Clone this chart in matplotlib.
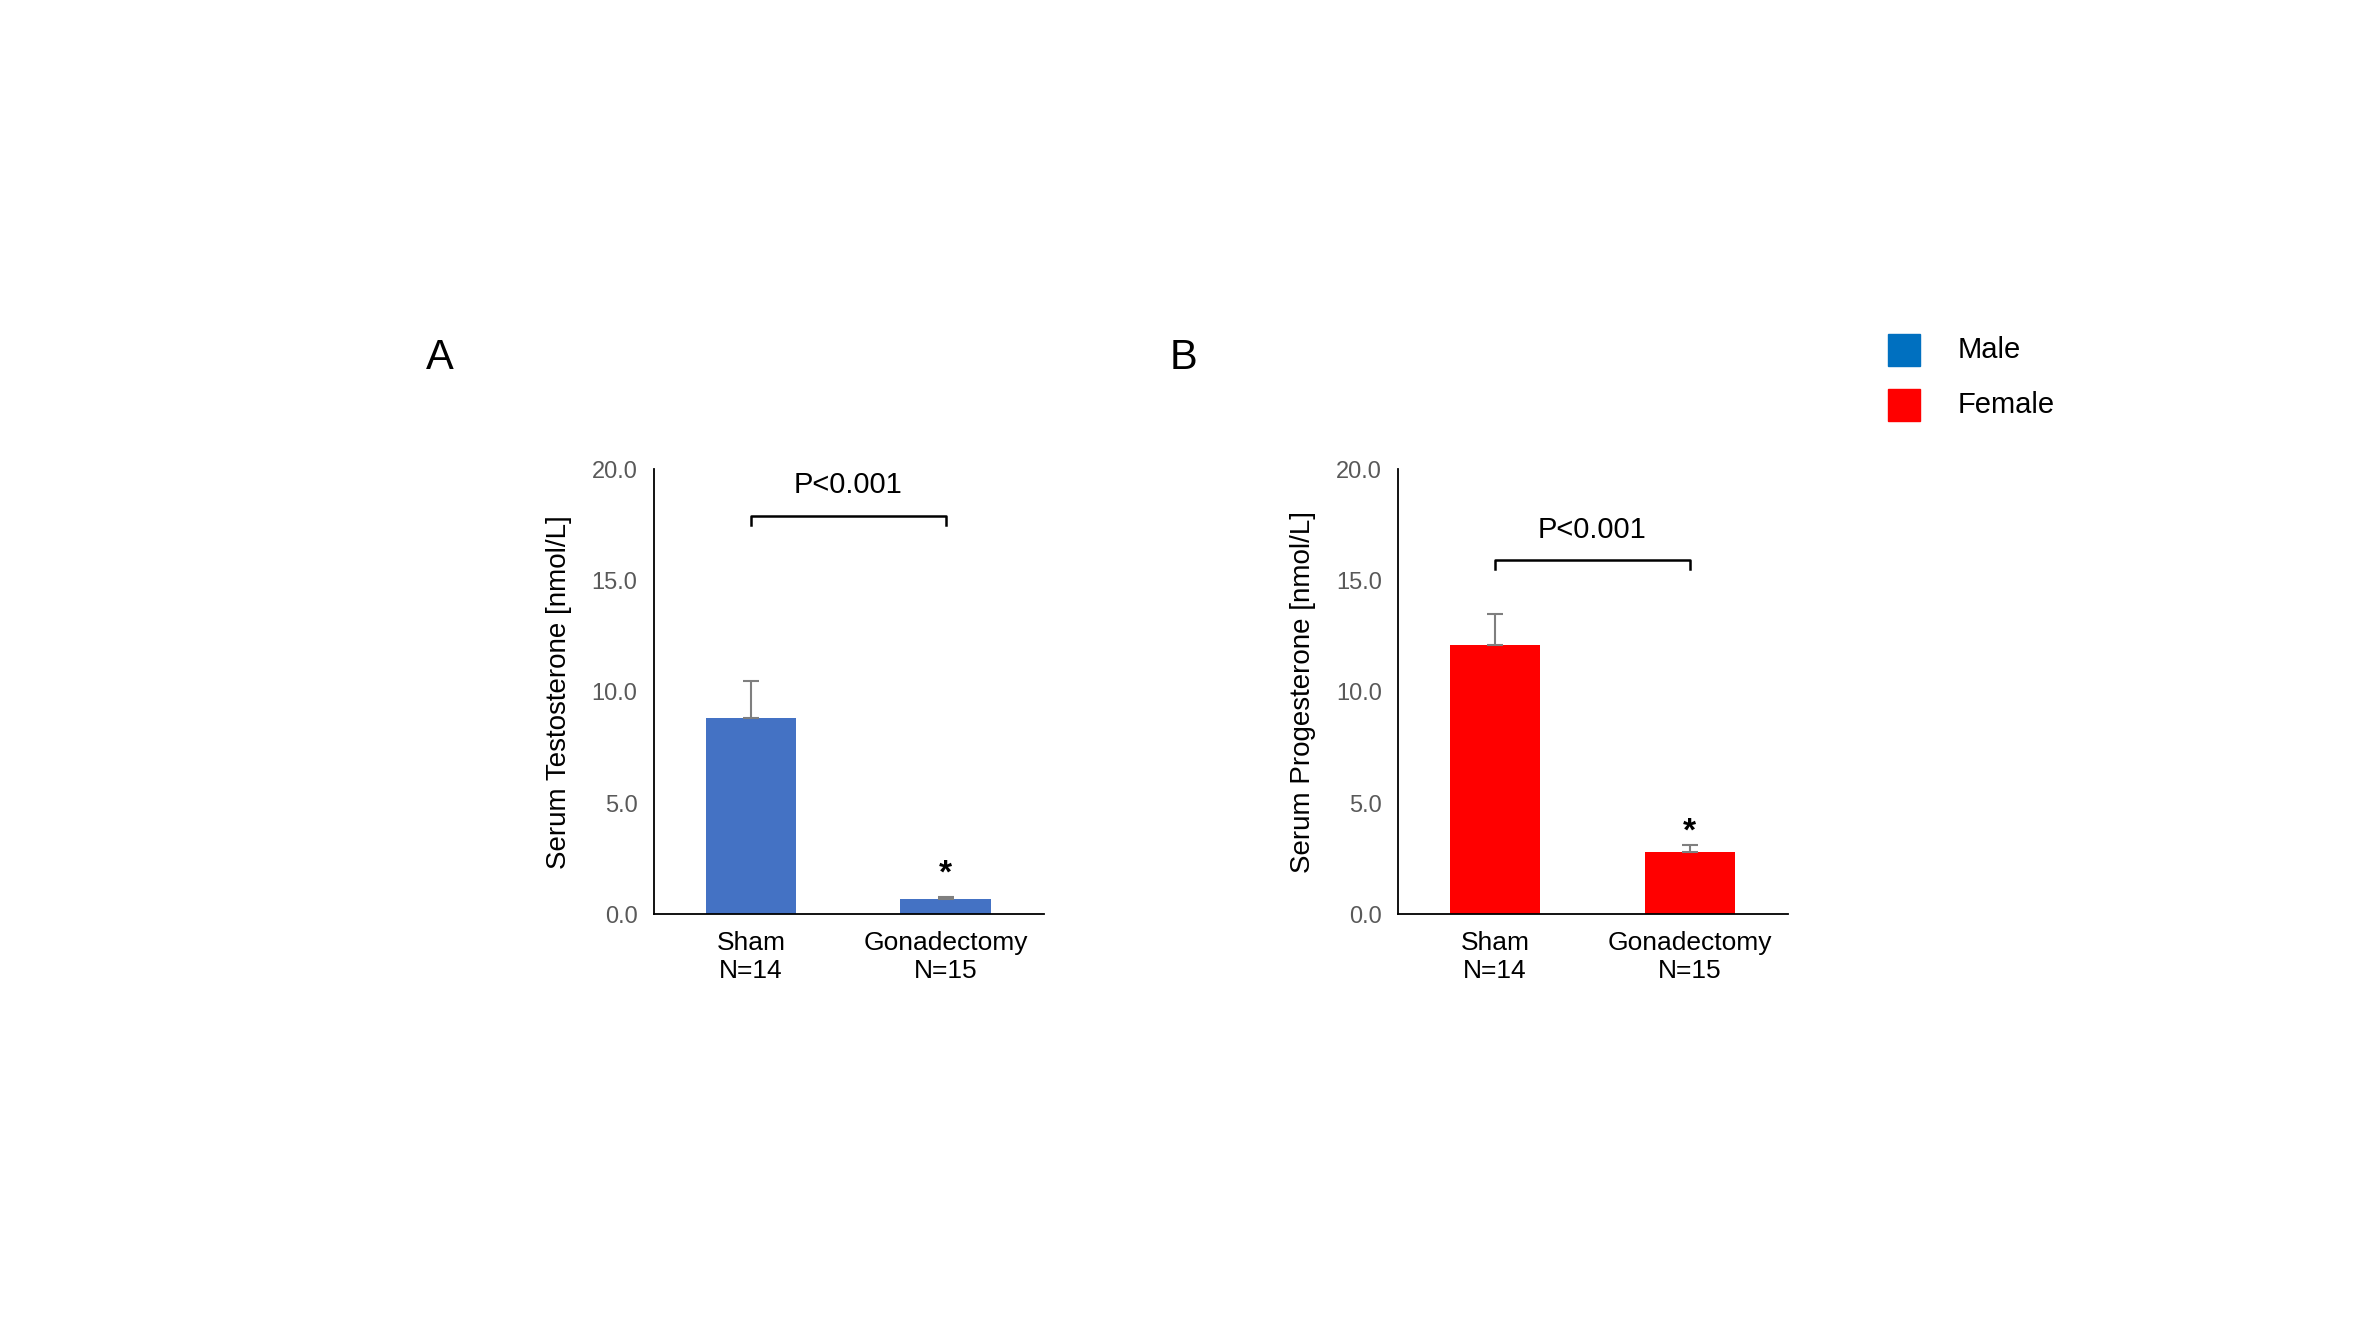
import matplotlib
matplotlib.use("Agg")
import matplotlib.pyplot as plt

categories = ["Sham\nN=14", "Gonadectomy\nN=15"]
testo = [8.8, 0.7]
testo_err = [1.7, 0.1]
prog = [12.1, 2.8]
prog_err = [1.4, 0.3]
yticks = [0, 5, 10, 15, 20]

plt.rcParams['font.family'] = ['Liberation Sans', 'DejaVu Sans']
fig = plt.figure(figsize=(23.62, 13.29), dpi=100)

def panel(left, vals, errs, color, ylabel, br_y, star_y, letter):
    ax = fig.add_axes([left, 0.312, 0.165, 0.335])
    x = [0, 1]
    ax.bar(x, vals, width=0.465, color=color)
    ax.errorbar(x, vals, yerr=[[0, 0], errs], fmt='none', ecolor='#7f7f7f', capsize=6, elinewidth=1.5, capthick=1.5)
    ax.set_xlim(-0.496, 1.504)
    ax.set_ylim(0, 20)
    ax.set_yticks(yticks)
    ax.set_yticklabels([f"{v:.1f}" for v in yticks], color='#595959', fontsize=17)
    ax.set_xticks(x)
    ax.set_xticklabels(categories, fontsize=19)
    ax.tick_params(length=0, pad=12)
    for s in ['top', 'right']:
        ax.spines[s].set_visible(False)
    for s in ['left', 'bottom']:
        ax.spines[s].set_color('black'); ax.spines[s].set_linewidth(1.3)
    ax.set_ylabel(ylabel, fontsize=20, labelpad=14)
    ax.plot([0, 0, 1, 1], [br_y - 0.4, br_y, br_y, br_y - 0.4], color='black', lw=1.8, clip_on=False)
    ax.text(0.5, br_y + 0.75, "P<0.001", ha='center', va='bottom', fontsize=21)
    ax.text(1, star_y, "*", ha='center', va='center', fontsize=24, fontweight='bold')
    ax.text(-0.2, 1.25, letter, transform=ax.transAxes, fontsize=30, ha='center', va='center')
    return ax

axA = panel(0.277, testo, testo_err, '#4472C4', "Serum Testosterone [nmol/L]", 17.9, 1.8, "A")
axB = panel(0.592, prog, prog_err, '#FF0000', "Serum Progesterone [nmol/L]", 15.9, 3.7, "B")
axA.texts[-1].set_position((-0.55, 1.25)); axB.texts[-1].set_position((-0.55, 1.25))

for yy, c, lab in [(1 - 231/877, '#0070C0', 'Male'), (1 - 267/877, '#FF0000', 'Female')]:
    fig.patches.append(plt.Rectangle((1247/1560, yy - 0.012), 0.0135, 0.024, color=c, transform=fig.transFigure))
    fig.text(1293/1560, yy, lab, fontsize=21, va='center', ha='left')

fig.savefig("out.png", dpi=100)
